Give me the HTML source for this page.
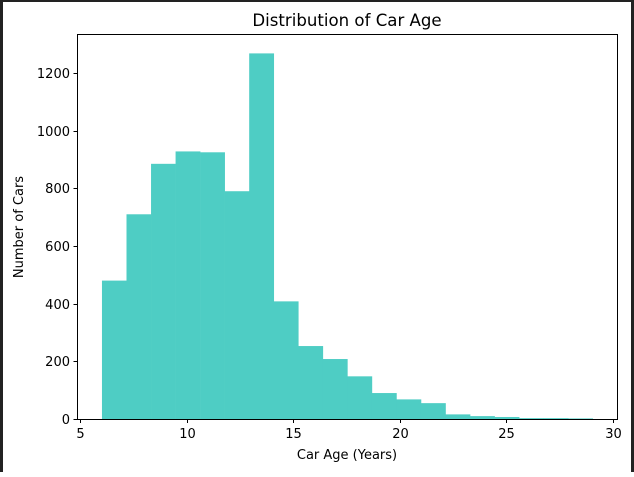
<!DOCTYPE html>
<html><head><meta charset="utf-8"><style>
html,body{margin:0;padding:0;background:#fff;}
body{width:634px;height:472px;overflow:hidden;position:relative;font-family:"Liberation Sans","DejaVu Sans",sans-serif;}
.frame{position:absolute;left:0;top:0;width:634px;height:472px;box-sizing:border-box;border-left:3px solid #222;border-top:2px solid #222;border-right:3px solid #222;}
text{font-family:"DejaVu Sans","Liberation Sans",sans-serif;}
</style></head><body>
<svg width="634" height="472" id="chart"></svg>
<div class="frame"></div>
<script>
const binStart = 6.03;
const binWidth = 1.151;
const counts = [480, 710, 885, 928, 925, 790, 1268, 408, 253, 208, 148, 90, 68, 55, 16, 10, 7, 3, 3, 2];
const xTicks = [5, 10, 15, 20, 25, 30];
const yTicks = [0, 200, 400, 600, 800, 1000, 1200];

const L=77,R=617,T=34,B=419;
const x = v => 80 + (v-5)*21.32;
const y = v => B - v*(346/1200);
const NS="http://www.w3.org/2000/svg";
const svg=document.getElementById('chart');
function mk(tag,attrs){const e=document.createElementNS(NS,tag);for(const k in attrs)e.setAttribute(k,attrs[k]);svg.appendChild(e);return e;}

counts.forEach((c,i)=>{
  const x0=x(binStart+i*binWidth), x1=x(binStart+(i+1)*binWidth);
  const r=mk('rect',{x:x0,y:y(c),width:x1-x0+0.3,height:B-y(c),fill:'#4ecdc4'});
  
  
});
const ax=mk('rect',{x:L+0.5,y:T+0.5,width:R-L,height:B-T,fill:'none',stroke:'#000','stroke-width':1});


xTicks.forEach(v=>{
  const px=Math.round(x(v))+0.5;
  mk('line',{x1:px,x2:px,y1:B+0.5,y2:B+4,stroke:'#000'});
  const t=mk('text',{x:px,y:B+19,'text-anchor':'middle','font-size':13});
  t.textContent=v;
  
  
});
yTicks.forEach(v=>{
  const py=Math.round(y(v))+0.5;
  mk('line',{x1:L-3.5,x2:L+0.5,y1:py,y2:py,stroke:'#000'});
  const t=mk('text',{x:L-7,y:py+4.5,'text-anchor':'end','font-size':13});
  t.textContent=v;
  
  
});
const ti=mk('text',{x:(L+R)/2,y:26,'text-anchor':'middle','font-size':16.6});
ti.textContent='Distribution of Car Age';


const xl=mk('text',{x:(L+R)/2,y:459,'text-anchor':'middle','font-size':13});
xl.textContent='Car Age (Years)';


const yl=mk('text',{x:0,y:0,'text-anchor':'middle','font-size':13,transform:'translate(23,227) rotate(-90)'});
yl.textContent='Number of Cars';


</script>
</body></html>
